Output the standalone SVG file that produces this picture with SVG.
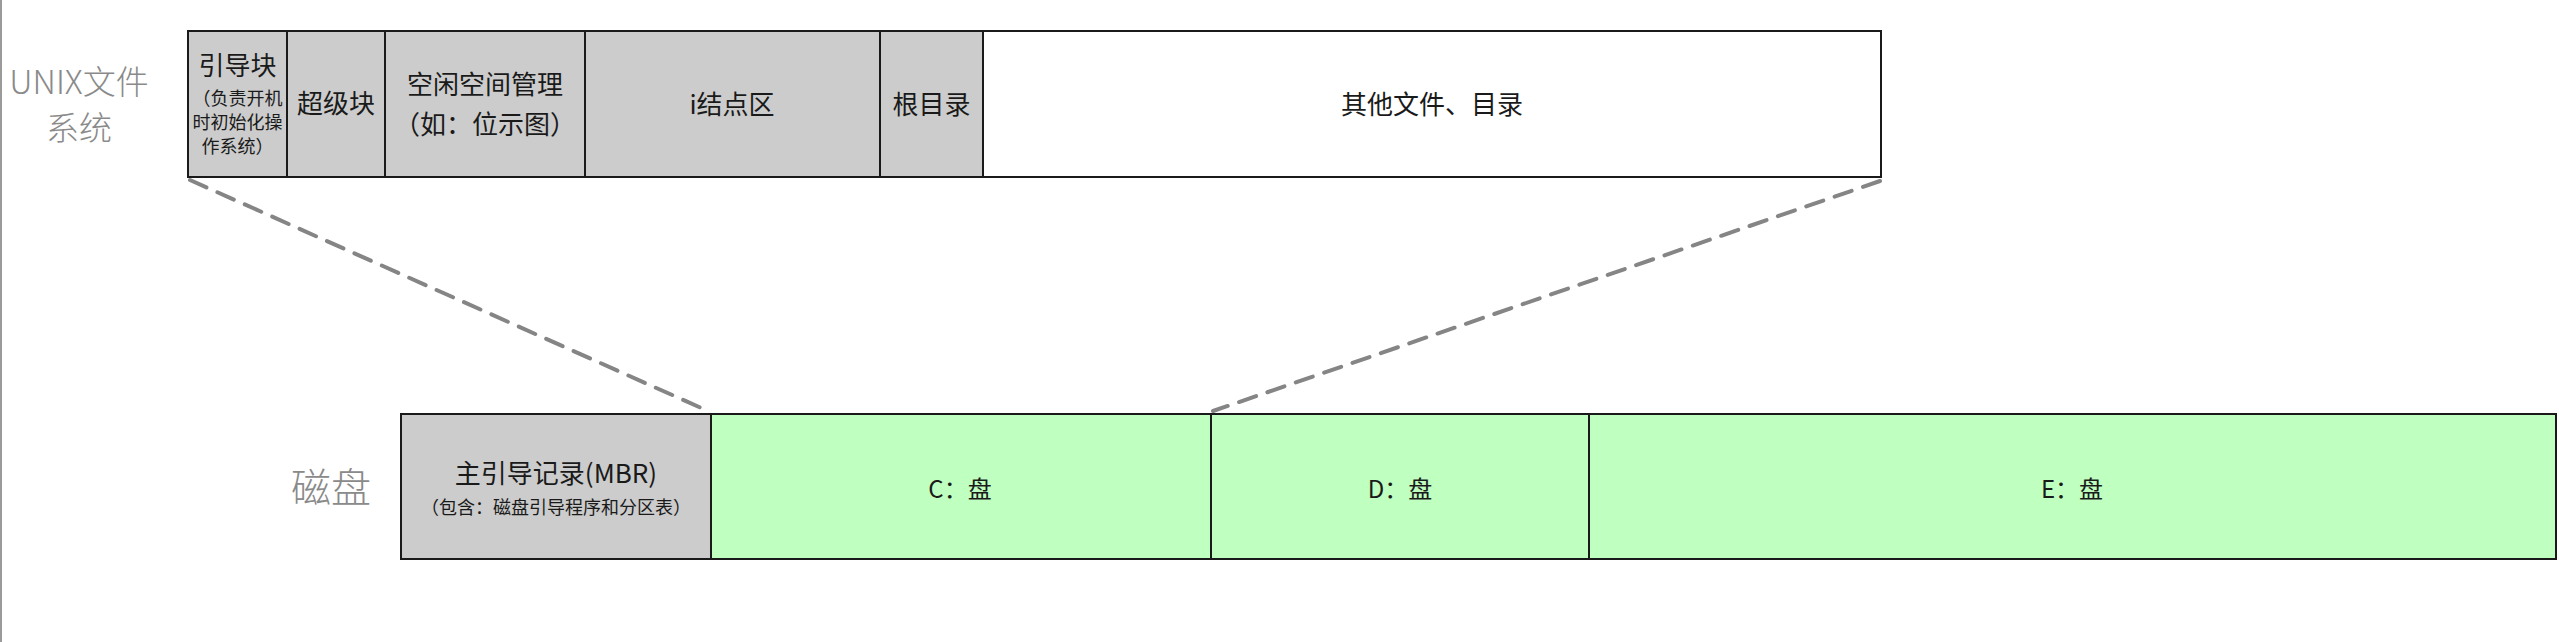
<svg xmlns="http://www.w3.org/2000/svg" width="2559" height="642" viewBox="0 0 2559 642">
<style>
.cell{stroke:#1a1a1a;stroke-width:2}
.g{fill:#cccccc}
.w{fill:#ffffff}
.gr{fill:#bfffbf}
.t{font-family:"Noto Sans CJK SC","Liberation Sans",sans-serif;fill:#1a1a1a;text-anchor:middle}
.big{font-size:26px}
.sm{font-size:18px}
.lab{font-family:"Noto Sans CJK SC","Liberation Sans",sans-serif;fill:#8a8a8a;text-anchor:middle;font-weight:300}
.dash{stroke:#858585;stroke-width:4;stroke-dasharray:18 12;fill:none;stroke-linecap:round}
</style>
<rect x="0" y="0" width="2559" height="642" fill="#ffffff"/>
<line x1="1" y1="0" x2="1" y2="642" stroke="#9a9a9a" stroke-width="2"/>
<g id="label-unix">
<text class="lab" x="79" y="94" font-size="33">UNIX文件</text>
<text class="lab" x="79" y="140" font-size="33">系统</text>
</g>
<g id="label-disk">
<text class="lab" x="331" y="502" font-size="40">磁盘</text>
</g>
<g id="boot-block">
<rect class="cell g" x="188" y="31" width="99" height="146"/>
<text class="t big" x="237.5" y="75">引导块</text>
<text class="t sm" x="237.5" y="105">（负责开机</text>
<text class="t sm" x="237.5" y="129">时初始化操</text>
<text class="t sm" x="237.5" y="153">作系统）</text>
</g>
<g id="super-block">
<rect class="cell g" x="287" y="31" width="98" height="146"/>
<text class="t big" x="336" y="113">超级块</text>
</g>
<g id="free-space">
<rect class="cell g" x="385" y="31" width="200" height="146"/>
<text class="t big" x="485" y="94">空闲空间管理</text>
<text class="t big" x="485" y="134">（如：位示图）</text>
</g>
<g id="inode-area">
<rect class="cell g" x="585" y="31" width="295" height="146"/>
<text class="t big" x="732" y="114">i结点区</text>
</g>
<g id="root-dir">
<rect class="cell g" x="880" y="31" width="103" height="146"/>
<text class="t big" x="931.5" y="114">根目录</text>
</g>
<g id="other-files">
<rect class="cell w" x="983" y="31" width="898" height="146"/>
<text class="t big" x="1432" y="114">其他文件、目录</text>
</g>
<g id="mbr">
<rect class="cell g" x="401" y="414" width="310" height="145"/>
<text class="t big" x="556" y="483">主引导记录(MBR)</text>
<text class="t sm" x="556" y="514">（包含：磁盘引导程序和分区表）</text>
</g>
<g id="c-drive">
<rect class="cell gr" x="711" y="414" width="500" height="145"/>
<text class="t" x="960" y="498" font-size="24">C：盘</text>
</g>
<g id="d-drive">
<rect class="cell gr" x="1211" y="414" width="378" height="145"/>
<text class="t" x="1400" y="498" font-size="24">D：盘</text>
</g>
<g id="e-drive">
<rect class="cell gr" x="1589" y="414" width="967" height="145"/>
<text class="t" x="2072" y="498" font-size="24">E：盘</text>
</g>
<g id="connectors">
<line class="dash" x1="190" y1="180" x2="708" y2="411"/>
<line class="dash" x1="1880" y1="181" x2="1213" y2="411"/>
</g>
</svg>
